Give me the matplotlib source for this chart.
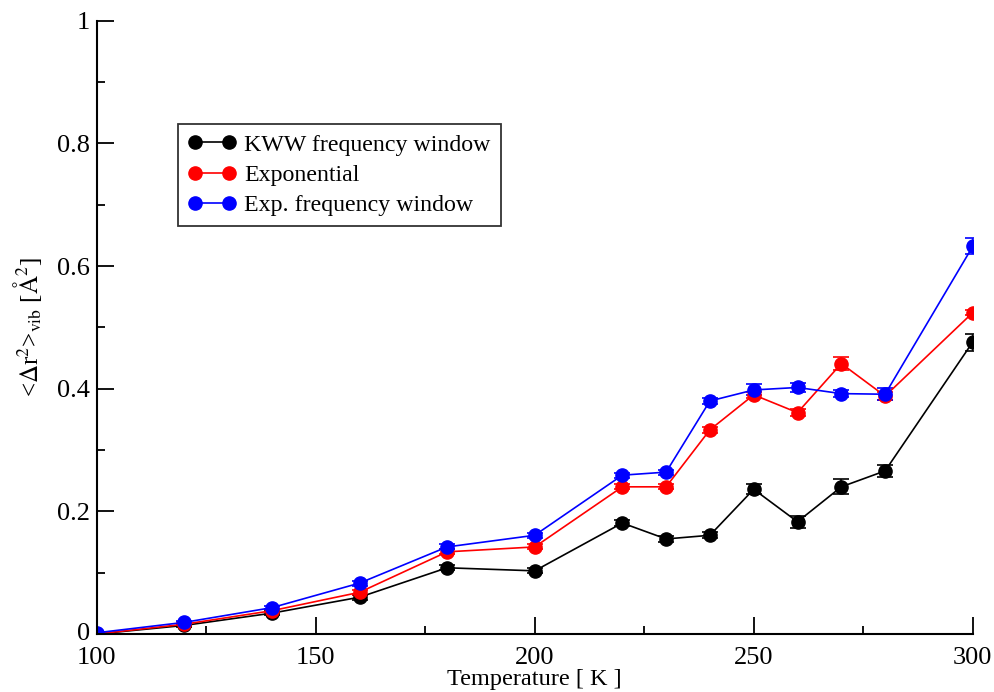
import matplotlib.pyplot as plt
import matplotlib.transforms as mtransforms
from matplotlib.lines import Line2D
from matplotlib.ticker import MultipleLocator

plt.rcParams['font.family'] = ['Liberation Serif', 'DejaVu Serif']
plt.rcParams['mathtext.fontset'] = 'stix'

temps = [100, 120, 140, 160, 180, 200, 220, 230, 240, 250, 260, 270, 280, 300]

kww = [0.000, 0.014, 0.034, 0.060, 0.108, 0.103, 0.181, 0.155, 0.161, 0.236, 0.183, 0.240, 0.266, 0.476]
kww_err = [0.002, 0.003, 0.003, 0.004, 0.004, 0.004, 0.005, 0.005, 0.005, 0.008, 0.010, 0.012, 0.010, 0.014]

expo = [0.000, 0.016, 0.038, 0.068, 0.134, 0.142, 0.240, 0.240, 0.333, 0.390, 0.361, 0.441, 0.388, 0.524]
expo_err = [0.002, 0.003, 0.003, 0.004, 0.004, 0.004, 0.004, 0.004, 0.005, 0.005, 0.006, 0.010, 0.007, 0.004]

expfw = [0.002, 0.019, 0.043, 0.083, 0.142, 0.161, 0.259, 0.264, 0.380, 0.398, 0.402, 0.392, 0.391, 0.632]
expfw_err = [0.002, 0.003, 0.003, 0.004, 0.004, 0.004, 0.004, 0.004, 0.005, 0.009, 0.007, 0.006, 0.010, 0.013]

series = [
    ("KWW frequency window", kww, kww_err, "black"),
    ("Exponential", expo, expo_err, "red"),
    ("Exp. frequency window", expfw, expfw_err, "blue"),
]

fig = plt.figure(figsize=(9.95, 6.92), dpi=100)
ax = fig.add_axes([0.0972, 0.0838, 0.8804, 0.8862])

handles = []
for label, y, err, color in series:
    ax.errorbar(temps, y, yerr=err, color=color, marker='o', markersize=9.5,
                linewidth=1.2, elinewidth=1.2, capsize=6, capthick=1.2)
    # legend entry: marker - line - marker, without the error bars
    handles.append(Line2D([], [], color=color, marker='o', markersize=9.5,
                          linewidth=1.2, label=label))

ax.set_xlim(100, 300)
ax.set_ylim(0, 1)
ax.xaxis.set_major_locator(MultipleLocator(50))
ax.xaxis.set_minor_locator(MultipleLocator(25))
ax.yaxis.set_minor_locator(MultipleLocator(0.1))
ax.set_yticks([0, 0.2, 0.4, 0.6, 0.8, 1.0])
ax.set_yticklabels(['0', '0.2', '0.4', '0.6', '0.8', '1'])

ax.spines['top'].set_visible(False)
ax.spines['right'].set_visible(False)
for s in ('left', 'bottom'):
    ax.spines[s].set_linewidth(1.5)

ax.tick_params(which='major', direction='in', length=12, width=1.3,
               labelsize=19, pad=5)
ax.tick_params(axis='x', which='major', pad=9)
ax.tick_params(which='minor', direction='in', length=6, width=1.3)

# nudge the y "0" up a little so it clears the "100" below it
zero_lbl = ax.get_yticklabels()[0]
zero_lbl.set_transform(zero_lbl.get_transform() +
                       mtransforms.ScaledTranslation(0, 2 / 72, fig.dpi_scale_trans))

ax.set_xlabel('Temperature [ K ]', fontsize=17.5, labelpad=0)
ax.set_ylabel(r'<$\Delta$r$^2$>$_{\rm vib}$ [$\rm\AA^2$]', fontsize=18, labelpad=9)

leg = ax.legend(handles=handles, numpoints=2, loc='upper left',
                bbox_to_anchor=(0.093, 0.832), fontsize=17.2,
                frameon=True, fancybox=False, edgecolor='black',
                borderpad=0.42, handlelength=2.0, handletextpad=0.35,
                labelspacing=0.36, borderaxespad=0)
leg.get_frame().set_linewidth(1.3)

fig.savefig('out.png', dpi=100)
